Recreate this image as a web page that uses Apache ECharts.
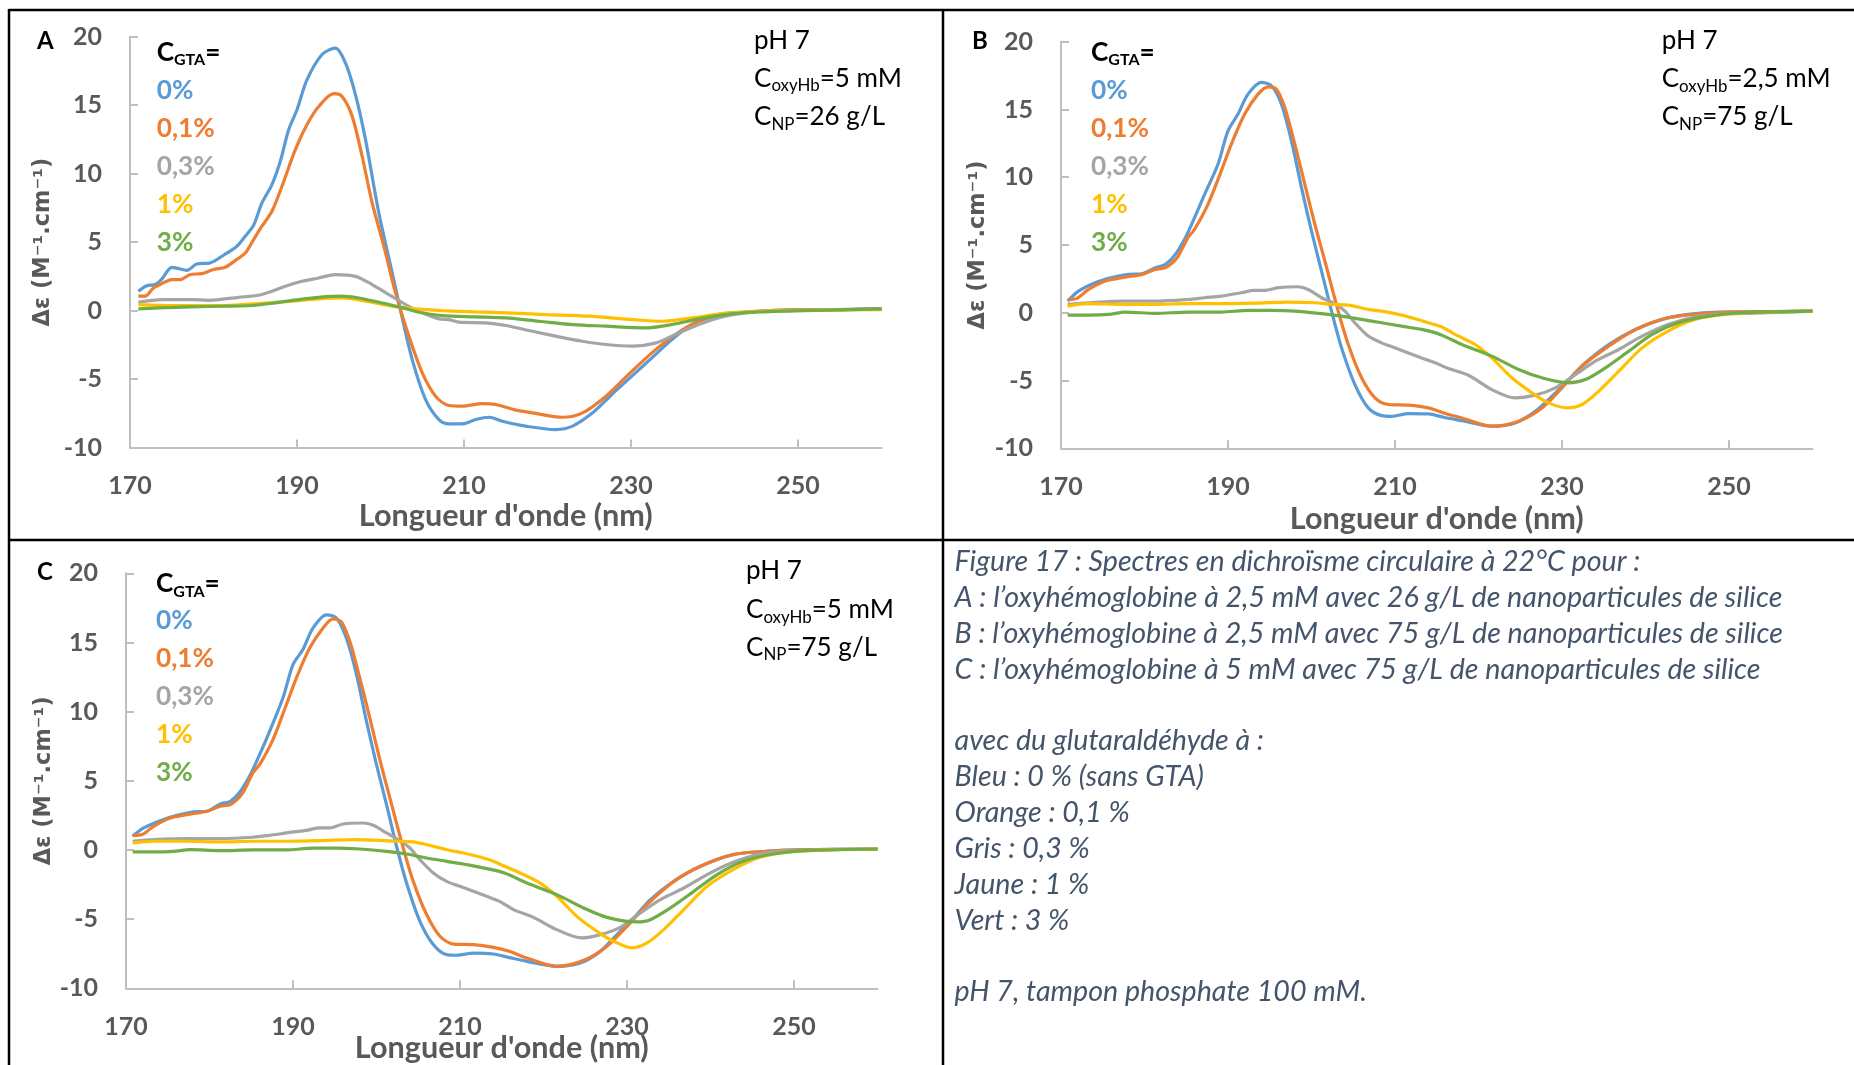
<!DOCTYPE html>
<html><head><meta charset="utf-8">
<script src="https://cdn.jsdelivr.net/npm/echarts@6/dist/echarts.min.js"></script>
<style>html,body{margin:0;padding:0;background:#fff}#c{width:1854px;height:1065px}</style>
</head><body><div id="c"></div><script>
// ---------------- DATA ----------------
const xTicks = [170, 190, 210, 230, 250];
const yTicksMin = -10, yTicksMax = 20, yStep = 5;
const seriesNames = ['0%', '0,1%', '0,3%', '1%', '3%'];
const seriesColors = ['#5B9BD5', '#ED7D31', '#A5A5A5', '#FFC000', '#70AD47'];
const panelNotes = {
  A: ['5 mM', '26 g/L'],
  B: ['2,5 mM', '75 g/L'],
  C: ['5 mM', '75 g/L']
};

const A_0 = [[171,1.41],[172,1.82],[173,1.9],[173.8,2.3],[175,3.16],[175.8,3.07],[176.8,2.94],[178,3.4],[179.6,3.48],[181.2,4.04],[182.8,4.7],[183.8,5.43],[184.8,6.23],[185.8,7.86],[187,9.2],[188,10.9],[189,13.2],[190,14.67],[191.2,16.86],[193,18.7],[194.6,19.17],[195.8,18.08],[197,15.77],[198.2,12.5],[199.8,7.13],[201.4,2.75],[202.6,-0.54],[203.8,-3.58],[205.4,-6.5],[207,-7.96],[208.2,-8.27],[209.8,-8.27],[211.4,-7.96],[213,-7.79],[214.6,-8.08],[217.4,-8.44],[221,-8.69],[223,-8.44],[225.4,-7.47],[227.7,-6.13],[230.1,-4.79],[232.5,-3.45],[234.9,-2.12],[237.3,-1.02],[240.5,-0.29],[243.7,-0.12],[246.9,0],[250.9,0.07],[254.9,0.07],[258.9,0.12],[260,0.12]];
const A_01 = [[171,1.05],[171.8,1.05],[172.8,1.65],[173.8,1.97],[175,2.26],[176,2.26],[177.2,2.63],[178.6,2.7],[180,3.0],[181.4,3.16],[182.6,3.65],[183.8,4.2],[184.8,5.18],[185.8,6.16],[187,7.25],[188.2,9.08],[189.8,11.75],[191.2,13.58],[192.6,14.9],[194.4,15.84],[195.4,15.64],[196.6,14.2],[197.8,11.27],[199,7.86],[200.4,4.7],[201.8,1.29],[203.4,-1.87],[205,-4.55],[206.6,-6.25],[208.2,-6.93],[209.8,-6.98],[212.2,-6.79],[213.8,-6.86],[216,-7.23],[218.2,-7.47],[221.8,-7.79],[224.2,-7.47],[227,-6.25],[229.7,-4.67],[232.5,-3.09],[235.3,-1.75],[238.1,-0.78],[241.3,-0.29],[245.3,-0.05],[250,0.05],[255,0.07],[260,0.1]];
const A_03 = [[171,0.61],[173.8,0.8],[177.4,0.8],[179.4,0.75],[183,0.97],[185.4,1.12],[187,1.41],[188.6,1.78],[190.6,2.14],[192.6,2.38],[194.6,2.63],[197,2.5],[199,1.9],[201,1.17],[203,0.44],[205,-0.17],[207,-0.61],[208.2,-0.66],[209.4,-0.85],[212.6,-0.9],[215,-1.09],[218.2,-1.51],[221.4,-1.92],[224.2,-2.24],[227,-2.48],[230.2,-2.6],[233,-2.36],[235.3,-1.75],[238.1,-1.02],[240.9,-0.46],[244.5,-0.12],[248.9,0],[254,0.07],[260,0.12]];
const A_1 = [[171,0.44],[175.4,0.37],[181.4,0.37],[185.4,0.51],[189.4,0.68],[192.6,0.85],[195.4,0.92],[198.2,0.68],[201.4,0.32],[204.2,0.12],[207.4,0],[211.4,-0.1],[215,-0.17],[219.8,-0.29],[225,-0.41],[230.2,-0.66],[233.7,-0.78],[237.3,-0.54],[240.9,-0.22],[244.9,-0.05],[250,0.02],[260,0.07]];
const A_3 = [[171,0.12],[173.4,0.19],[177.4,0.27],[181.4,0.32],[184.6,0.37],[187.4,0.56],[190.2,0.8],[192.6,0.97],[195.4,1.05],[197.4,0.92],[199.8,0.61],[202.2,0.27],[204.6,-0.12],[207.4,-0.37],[211.4,-0.46],[215,-0.54],[219,-0.78],[223,-1.02],[227,-1.14],[231.7,-1.27],[234.9,-1.02],[238.1,-0.61],[241.3,-0.29],[245.3,-0.1],[250.9,0],[260,0.12]];

const B_0 = [[170.8,0.86],[172.1,1.6],[174.1,2.22],[176.1,2.59],[178.1,2.83],[179.7,2.88],[181.3,3.33],[182.5,3.57],[183.7,4.31],[184.9,5.54],[186,7.02],[187.2,8.74],[188.8,10.96],[190,13.42],[191.2,14.66],[192.4,16.13],[194,17.0],[195.2,16.75],[196.4,15.39],[197.6,12.68],[198.8,9.24],[200,6.03],[201.2,3.08],[202.4,0.12],[203.6,-2.59],[205.2,-5.3],[206.8,-7.02],[208.4,-7.59],[209.6,-7.64],[211.6,-7.44],[214,-7.46],[215.8,-7.71],[218,-7.96],[221.6,-8.37],[224.4,-8.13],[226.8,-7.27],[228.8,-6.16],[230.8,-4.93],[232.8,-3.69],[235.6,-2.34],[238.8,-1.23],[242,-0.49],[245.1,-0.12],[248.7,0.05],[254.7,0.07],[260,0.12]];
const B_01 = [[170.8,0.98],[171.9,1.06],[173.3,1.72],[175.3,2.34],[177.3,2.59],[179.7,2.83],[181.3,3.2],[182.5,3.33],[183.9,4.06],[185.2,5.54],[186,6.16],[187.6,8.0],[189.2,10.47],[190.4,12.44],[192,14.66],[193.6,16.13],[194.8,16.67],[195.8,16.5],[196.8,15.15],[198,12.44],[199.2,9.48],[200.4,6.53],[201.6,3.82],[203.2,0.12],[204.4,-2.34],[206,-4.8],[207.6,-6.28],[209.2,-6.77],[211.6,-6.82],[214,-7.02],[215.8,-7.39],[218,-7.76],[221.6,-8.37],[224.8,-8.0],[227.6,-7.02],[230,-5.54],[232.4,-3.94],[235.6,-2.46],[238.8,-1.23],[242.7,-0.37],[246.7,-0.07],[250.7,0.05],[260,0.12]];
const B_03 = [[170.8,0.62],[173.3,0.74],[177.3,0.86],[181.3,0.86],[185.2,0.98],[187.2,1.11],[189.2,1.23],[191.6,1.48],[193.2,1.65],[194.4,1.65],[196,1.85],[198.4,1.92],[199.6,1.72],[201.2,1.11],[202.8,0.67],[204,0.12],[205.2,-0.74],[206.8,-1.72],[208.4,-2.22],[210,-2.59],[211.6,-2.96],[213.2,-3.33],[214.8,-3.69],[216.4,-4.11],[218.8,-4.61],[221.6,-5.67],[224.4,-6.28],[226.8,-6.08],[229.2,-5.54],[231.6,-4.56],[234,-3.57],[236.8,-2.71],[239.6,-1.72],[242.7,-0.86],[245.9,-0.32],[249.9,-0.07],[254.7,0],[260,0.12]];
const B_1 = [[170.8,0.49],[173.3,0.67],[177.3,0.62],[181.3,0.62],[185.2,0.67],[189.2,0.67],[193.2,0.71],[197.2,0.79],[200.4,0.74],[202.4,0.62],[204.4,0.57],[206.8,0.25],[208.4,0.12],[210.4,-0.12],[212.4,-0.44],[214,-0.74],[215.8,-1.1],[217.2,-1.6],[219.6,-2.34],[221.6,-3.33],[224,-4.8],[226.4,-5.91],[228.4,-6.65],[230.6,-7.02],[232.4,-6.77],[234.4,-5.79],[236.8,-4.31],[239.6,-2.59],[242.7,-1.35],[245.9,-0.49],[249.5,-0.12],[254.7,0.05],[260,0.12]];
const B_3 = [[170.8,-0.17],[173.3,-0.17],[175.7,-0.12],[177.7,0.05],[181.3,-0.05],[185.2,0.05],[189.2,0.05],[192.4,0.17],[195.2,0.17],[198,0.12],[201.2,-0.07],[203.6,-0.25],[206,-0.49],[208.4,-0.74],[210.8,-0.99],[213.2,-1.23],[215.4,-1.6],[218,-2.34],[221.6,-3.2],[224.8,-4.19],[227.6,-4.8],[230.8,-5.17],[232.8,-4.93],[235.2,-4.06],[238,-2.83],[240.8,-1.6],[243.9,-0.74],[247.5,-0.25],[251.5,0],[260,0.12]];

const C_0 = [[170.8,0.99],[172.1,1.59],[174.1,2.12],[176.1,2.5],[178.1,2.75],[179.7,2.8],[181.3,3.33],[182.5,3.52],[183.7,4.24],[184.9,5.45],[186,6.89],[187.2,8.58],[188.8,11.0],[190,13.4],[191.2,14.5],[192.4,16.05],[194,17.0],[195.2,16.77],[196.4,15.3],[197.6,12.7],[198.8,9.3],[200,6.17],[201.2,3.28],[202.4,0.27],[203.6,-2.39],[205.2,-5.16],[206.8,-6.84],[208.4,-7.57],[209.6,-7.61],[211.6,-7.45],[214,-7.52],[215.8,-7.76],[218,-8.05],[221.6,-8.41],[224.4,-8.17],[226.8,-7.33],[228.8,-6.12],[230.8,-4.92],[232.8,-3.59],[235.6,-2.27],[238.8,-1.18],[242.7,-0.34],[246.7,-0.1],[250.7,0],[260,0.07]];
const C_01 = [[170.8,1.06],[171.9,1.11],[173.3,1.71],[175.3,2.31],[177.3,2.55],[179.7,2.8],[181.3,3.16],[182.5,3.28],[183.9,4.05],[185.2,5.57],[186,6.17],[187.6,7.98],[189.2,10.5],[190.4,12.43],[192,14.6],[193.6,16.05],[194.8,16.7],[195.8,16.48],[196.8,15.08],[198,12.43],[199.2,9.54],[200.4,6.53],[201.6,3.76],[203.2,0.14],[204.4,-2.27],[206,-4.67],[207.6,-6.24],[209.2,-6.8],[211.6,-6.84],[214,-7.04],[215.8,-7.3],[218,-7.81],[221.6,-8.41],[225,-7.93],[227.6,-6.96],[230,-5.52],[232.4,-3.95],[235.6,-2.27],[238.8,-1.18],[242.7,-0.34],[246.7,-0.1],[250.7,0],[260,0.07]];
const C_03 = [[170.8,0.63],[173.3,0.75],[177.3,0.82],[181.3,0.82],[185.2,0.92],[187.2,1.06],[189.2,1.23],[191.6,1.42],[193.2,1.59],[194.4,1.59],[196,1.88],[198.4,1.95],[199.6,1.78],[201.2,1.23],[202.8,0.67],[204,0.14],[205.2,-0.7],[206.8,-1.66],[208.4,-2.27],[210,-2.63],[211.6,-2.99],[213.2,-3.35],[214.8,-3.73],[216.4,-4.31],[218.8,-4.87],[221.6,-5.76],[224.6,-6.36],[226.8,-6.12],[229.2,-5.59],[231.6,-4.55],[234,-3.59],[236.8,-2.75],[239.6,-1.78],[242.7,-0.89],[245.9,-0.29],[249.9,-0.05],[260,0.07]];
const C_1 = [[170.8,0.51],[173.3,0.63],[177.3,0.63],[181.3,0.58],[185.2,0.63],[189.2,0.63],[193.2,0.67],[197.2,0.75],[200.4,0.7],[202.4,0.63],[204.4,0.58],[206.8,0.27],[208.4,0.02],[210.4,-0.22],[212.4,-0.51],[214,-0.82],[215.4,-1.2],[217.2,-1.66],[219.6,-2.39],[221.6,-3.35],[224,-4.8],[226.4,-5.88],[228.4,-6.6],[230.6,-7.08],[232.4,-6.72],[234.4,-5.76],[236.8,-4.31],[239.6,-2.63],[242.7,-1.42],[245.9,-0.53],[249.5,-0.14],[254.7,0],[260,0.07]];
const C_3 = [[170.8,-0.14],[173.3,-0.14],[175.7,-0.1],[177.7,0.02],[181.3,-0.05],[185.2,0],[189.2,0],[192.4,0.14],[195.2,0.14],[198,0.07],[201.2,-0.1],[203.6,-0.29],[206,-0.58],[208.4,-0.82],[210.8,-1.06],[213.2,-1.35],[215.4,-1.68],[218,-2.39],[221.6,-3.23],[224.8,-4.19],[227.6,-4.87],[231.2,-5.2],[232.8,-5.04],[235.2,-4.19],[238,-2.99],[240.8,-1.78],[243.9,-0.82],[247.5,-0.29],[251.5,-0.05],[260,0.07]];

const panelData = { A: [A_0, A_01, A_03, A_1, A_3], B: [B_0, B_01, B_03, B_1, B_3], C: [C_0, C_01, C_03, C_1, C_3] };

const captionLines = [
  'Figure 17 : Spectres en dichroïsme circulaire à 22°C pour :',
  'A : l’oxyhémoglobine à 2,5 mM avec 26 g/L de nanoparticules de silice',
  'B : l’oxyhémoglobine à 2,5 mM avec 75 g/L de nanoparticules de silice',
  'C : l’oxyhémoglobine à 5 mM avec 75 g/L de nanoparticules de silice',
  '',
  'avec du glutaraldéhyde à :',
  'Bleu : 0 % (sans GTA)',
  'Orange : 0,1 %',
  'Gris : 0,3 %',
  'Jaune : 1 %',
  'Vert : 3 %',
  '',
  'pH 7, tampon phosphate 100 mM.'
];

// ---------------- LAYOUT ----------------
const FONT = 'Lato, "Liberation Sans", sans-serif';
const YFONT = '"DejaVu Sans", Verdana, sans-serif';
const GRAY = '#595959';
const K = 0.3; // baseline offset factor for middle-aligned text
const layout = {
  A: { grid: [130, 36.7, 751.5, 410.8], letter: [37, 48.2], legend: [156.7, 60, 98.3], note: [754, 48.2, 86, 124.5], yTitleX: 43.5, xTitleBase: 525 },
  B: { grid: [1061, 41.7, 751.5, 406.6], letter: [972, 48.2], legend: [1091, 60, 98.3], note: [1661.7, 48.3, 86.7, 124.3], yTitleX: 978.5, xTitleBase: 528.6 },
  C: { grid: [126, 573.3, 751.5, 415], letter: [37, 579], legend: [156, 591.7, 628.3], note: [746, 578.5, 617.5, 655], yTitleX: 44, xTitleBase: 1057 }
};

const cv = document.createElement('canvas').getContext('2d');
function tw(text, size, weight, style, family) {
  cv.font = (style || 'normal') + ' ' + (weight || 'normal') + ' ' + size + 'px ' + (family || FONT);
  return cv.measureText(text).width;
}
function fit(text, target, weight, style, family) { return 100 * target / tw(text, 100, weight, style, family); }

function seq(x, base, parts, family) {
  const els = []; let cx = x;
  family = family || FONT;
  for (const p of parts) {
    const w = tw(p.t, p.size, p.weight || 'normal', p.style || 'normal', family);
    els.push({ type: 'text', x: cx, y: base + (p.dy || 0) - K * p.size, silent: true,
      style: { text: p.t, fontSize: p.size, fontWeight: p.weight || 'normal', fontStyle: p.style || 'normal',
        fontFamily: family, fill: p.color || '#000', align: 'left', verticalAlign: 'middle' } });
    cx += w;
  }
  return els;
}

const legSize = fit('0,1%', 58, 'bold');
const xTitleSize = fit("Longueur d'onde (nm)", 294, 'bold');
const yTitleText = 'Δε (M⁻¹.cm⁻¹)';
const yTitleSize = fit(yTitleText, 169, 'bold', 'normal', YFONT);
const capSize = fit(captionLines[1], 828, 'normal', 'italic');
// note size: "CoxyHb=5 mM" about 148 px wide, subscript at 0.65 of main size
const noteUnit = (tw('C', 100) + 0.65 * tw('oxyHb', 100) + tw('=5 mM', 100)) / 100;
const noteSize = 148 / noteUnit, subSize = 0.65 * noteSize;

const grids = [], xAxes = [], yAxes = [], series = [], graphics = [];
['A', 'B', 'C'].forEach((key, i) => {
  const L = layout[key];
  const [gl, gt, gw, gh] = L.grid;
  grids.push({ left: gl, top: gt, width: gw, height: gh, outerBoundsMode: 'none', containLabel: false });
  const axLine = { show: true, onZero: false, lineStyle: { color: '#BFBFBF', width: 2 } };
  const axTick = { show: true, inside: true, length: 8, lineStyle: { color: '#BFBFBF', width: 2 } };
  xAxes.push({ type: 'value', gridIndex: i, min: 170, max: 260,
    axisLine: axLine, axisTick: Object.assign({ customValues: xTicks }, axTick),
    axisLabel: { customValues: xTicks, margin: 26, color: GRAY, fontSize: 25, fontWeight: 'bold', fontFamily: FONT },
    splitLine: { show: false } });
  yAxes.push({ type: 'value', gridIndex: i, min: yTicksMin, max: yTicksMax, interval: yStep,
    axisLine: axLine, axisTick: axTick,
    axisLabel: { margin: 28, color: GRAY, fontSize: 25, fontWeight: 'bold', fontFamily: FONT },
    splitLine: { show: false } });
  panelData[key].forEach((d, s) => {
    series.push({ type: 'line', name: key + ' ' + seriesNames[s], xAxisIndex: i, yAxisIndex: i, data: d,
      showSymbol: false, smooth: 0.3, lineStyle: { color: seriesColors[s], width: 3.2 }, itemStyle: { color: seriesColors[s] },
      silent: true, z: 2 + s });
  });
  // panel letter
  graphics.push(...seq(L.letter[0], L.letter[1], [{ t: key, size: 24, weight: 'bold' }]));
  // legend-like labels
  const [lx, lcb, l0b] = L.legend;
  graphics.push(...seq(lx, lcb, [
    { t: 'C', size: legSize, weight: 'bold' },
    { t: 'GTA', size: 16, weight: 'bold', dy: 5 },
    { t: '=', size: legSize, weight: 'bold' }]));
  seriesNames.forEach((n, s) => {
    graphics.push(...seq(lx, l0b + s * 38.1, [{ t: n, size: legSize, weight: 'bold', color: seriesColors[s] }]));
  });
  // notes
  const [nx, nb1, nb2, nb3] = L.note;
  graphics.push(...seq(nx, nb1, [{ t: 'pH 7', size: noteSize }]));
  graphics.push(...seq(nx, nb2, [{ t: 'C', size: noteSize }, { t: 'oxyHb', size: subSize, dy: 5 }, { t: '=' + panelNotes[key][0], size: noteSize }]));
  graphics.push(...seq(nx, nb3, [{ t: 'C', size: noteSize }, { t: 'NP', size: subSize, dy: 5 }, { t: '=' + panelNotes[key][1], size: noteSize }]));
  // axis titles
  graphics.push({ type: 'text', x: gl + gw / 2, y: L.xTitleBase - K * xTitleSize, silent: true,
    style: { text: "Longueur d'onde (nm)", fontSize: xTitleSize, fontWeight: 'bold', fontFamily: FONT, fill: GRAY, align: 'center', verticalAlign: 'middle' } });
  graphics.push({ type: 'text', x: L.yTitleX, y: gt + gh / 2, rotation: Math.PI / 2, silent: true,
    style: { text: yTitleText, fontSize: yTitleSize, fontWeight: 'bold', fontFamily: YFONT, fill: GRAY, align: 'center', verticalAlign: 'middle' } });
});

// caption
captionLines.forEach((line, j) => {
  if (!line) return;
  graphics.push(...seq(954.6, 570.5 + j * 35.85, [{ t: line, size: capSize, style: 'italic', color: '#44546A' }]));
});

// table borders
const B = { stroke: '#000', lineWidth: 2.5 };
[[9, 10, 1854, 10], [9, 540, 1854, 540], [9, 9, 9, 1065], [943, 9, 943, 1065]].forEach(c => {
  graphics.push({ type: 'line', silent: true, shape: { x1: c[0], y1: c[1], x2: c[2], y2: c[3] }, style: B });
});

const chart = echarts.init(document.getElementById('c'), null, { renderer: 'canvas' });
chart.setOption({
  backgroundColor: '#fff', animation: false,
  grid: grids, xAxis: xAxes, yAxis: yAxes, series: series,
  graphic: { elements: graphics }
});
</script></body></html>
